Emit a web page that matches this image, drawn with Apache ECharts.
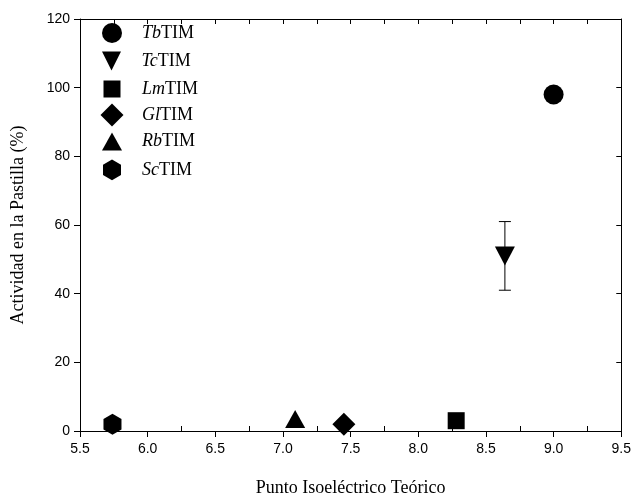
<!DOCTYPE html>
<html>
<head>
<meta charset="utf-8">
<script src="https://cdn.jsdelivr.net/npm/echarts@6/dist/echarts.min.js"></script>
<style>
html,body{margin:0;padding:0;background:#fff;}
#chart{width:634px;height:502px;}
</style>
</head>
<body>
<div id="chart"></div>
<script>
// ---- data ----
const names = ['TbTIM', 'TcTIM', 'LmTIM', 'GlTIM', 'RbTIM', 'ScTIM'];
const italicPart = ['Tb', 'Tc', 'Lm', 'Gl', 'Rb', 'Sc'];
const pI = [9.0, 8.64, 8.28, 7.45, 7.09, 5.74];
const activity = [98, 51, 3, 2, 3.5, 2];
const errLow = [null, 41, null, null, null, null];
const errHigh = [null, 61, null, null, null, null];
const xTicks = [5.5, 6.0, 6.5, 7.0, 7.5, 8.0, 8.5, 9.0, 9.5];
const yTicks = [0, 20, 40, 60, 80, 100, 120];

// ---- styling ----
const DOWN_TRI = 'path://M0,0 L2,0 L1,2 Z';
const HEXAGON = 'path://M0.866,0 L1.732,0.5 L1.732,1.5 L0.866,2 L0,1.5 L0,0.5 Z';
const symbols = ['circle', DOWN_TRI, 'rect', 'diamond', 'triangle', HEXAGON];
const sizes = [[20, 20], [20, 19], [17, 17], [23, 23], [20, 18], [18, 21]];
const legendCenters = [33, 61, 88.5, 115, 141.5, 170];
const legendIconX = 112;
const textStartX = 142;

const chart = echarts.init(document.getElementById('chart'), null, {renderer: 'canvas', width: 634, height: 502});

const axisLineStyle = {color: '#000', width: 1};
const labelFont = {fontFamily: '"Liberation Sans", Arial, sans-serif', fontSize: 14, color: '#000'};
const titleFont = {fontFamily: '"Liberation Serif", "Times New Roman", serif', fontSize: 18, color: '#000'};

const series = names.map((n, i) => ({
  name: n,
  type: 'scatter',
  xAxisIndex: 0,
  yAxisIndex: 0,
  symbol: symbols[i],
  symbolSize: sizes[i],
  itemStyle: {color: '#000', opacity: 1, borderWidth: 0},
  emphasis: {disabled: true},
  z: 5,
  data: [[pI[i], activity[i]]]
}));

const errData = [];
pI.forEach((x, i) => { if (errLow[i] != null) errData.push([x, errLow[i], errHigh[i]]); });

series.push({
  type: 'custom',
  xAxisIndex: 0,
  yAxisIndex: 0,
  z: 3,
  silent: true,
  data: errData,
  renderItem: function (params, api) {
    const x = api.value(0);
    const lo = api.coord([x, api.value(1)]);
    const hi = api.coord([x, api.value(2)]);
    const hw = 6;
    const st = {stroke: '#000', lineWidth: 1};
    return {
      type: 'group',
      children: [
        {type: 'line', shape: {x1: lo[0], y1: lo[1], x2: hi[0], y2: hi[1]}, style: st},
        {type: 'line', shape: {x1: lo[0] - hw, y1: lo[1], x2: lo[0] + hw, y2: lo[1]}, style: st},
        {type: 'line', shape: {x1: hi[0] - hw, y1: hi[1], x2: hi[0] + hw, y2: hi[1]}, style: st}
      ]
    };
  }
});

const legends = names.map((n, i) => {
  const w = sizes[i][0], h = sizes[i][1];
  const pad = textStartX - (legendIconX + w / 2 + 5);
  return {
    show: true,
    orient: 'vertical',
    left: legendIconX - w / 2,
    top: legendCenters[i] - h / 2,
    padding: 0,
    itemWidth: w,
    itemHeight: h,
    selectedMode: false,
    itemStyle: {color: '#000', opacity: 1, borderWidth: 0},
    data: [{name: n, icon: symbols[i]}],
    formatter: function () {
      return '{s|}{i|' + italicPart[i] + '}{n|TIM}';
    },
    textStyle: {
      rich: {
        s: {width: pad},
        i: {fontFamily: '"Liberation Serif", "Times New Roman", serif', fontStyle: 'italic', fontSize: 18, color: '#000'},
        n: {fontFamily: '"Liberation Serif", "Times New Roman", serif', fontSize: 18, color: '#000'}
      }
    }
  };
});

const option = {
  animation: false,
  backgroundColor: '#fff',
  grid: {left: 80, width: 542, top: 19, height: 416, containLabel: false},
  legend: legends,
  xAxis: [
    {
      type: 'value', position: 'bottom', min: xTicks[0], max: xTicks[xTicks.length - 1], interval: 0.5,
      axisLine: {show: true, onZero: false, lineStyle: axisLineStyle},
      axisTick: {show: true, inside: false, length: 6, lineStyle: axisLineStyle},
      minorTick: {show: true, splitNumber: 2, length: -5, lineStyle: axisLineStyle},
      splitLine: {show: false},
      axisLabel: Object.assign({margin: 11, formatter: v => v.toFixed(1)}, labelFont),
      name: 'Punto Isoeléctrico Teórico', nameLocation: 'middle', nameGap: 48,
      nameTextStyle: titleFont
    },
    {
      type: 'value', position: 'top', min: xTicks[0], max: xTicks[xTicks.length - 1], interval: 0.25,
      axisLine: {show: true, onZero: false, lineStyle: axisLineStyle},
      axisTick: {show: true, inside: true, length: 5, lineStyle: axisLineStyle},
      splitLine: {show: false},
      axisLabel: {show: false}
    }
  ],
  yAxis: [
    {
      type: 'value', position: 'left', min: yTicks[0], max: yTicks[yTicks.length - 1], interval: 20,
      axisLine: {show: true, onZero: false, lineStyle: axisLineStyle},
      axisTick: {show: true, inside: false, length: 6, lineStyle: axisLineStyle},
      splitLine: {show: false},
      axisLabel: Object.assign({margin: 10}, labelFont),
      name: 'Actividad en la Pastilla (%)', nameLocation: 'middle', nameGap: 53,
      nameTextStyle: titleFont
    },
    {
      type: 'value', position: 'right', min: yTicks[0], max: yTicks[yTicks.length - 1], interval: 20,
      axisLine: {show: true, onZero: false, lineStyle: axisLineStyle},
      axisTick: {show: true, inside: true, length: 5, lineStyle: axisLineStyle},
      splitLine: {show: false},
      axisLabel: {show: false}
    }
  ],
  series: series
};

chart.setOption(option);
</script>
</body>
</html>
